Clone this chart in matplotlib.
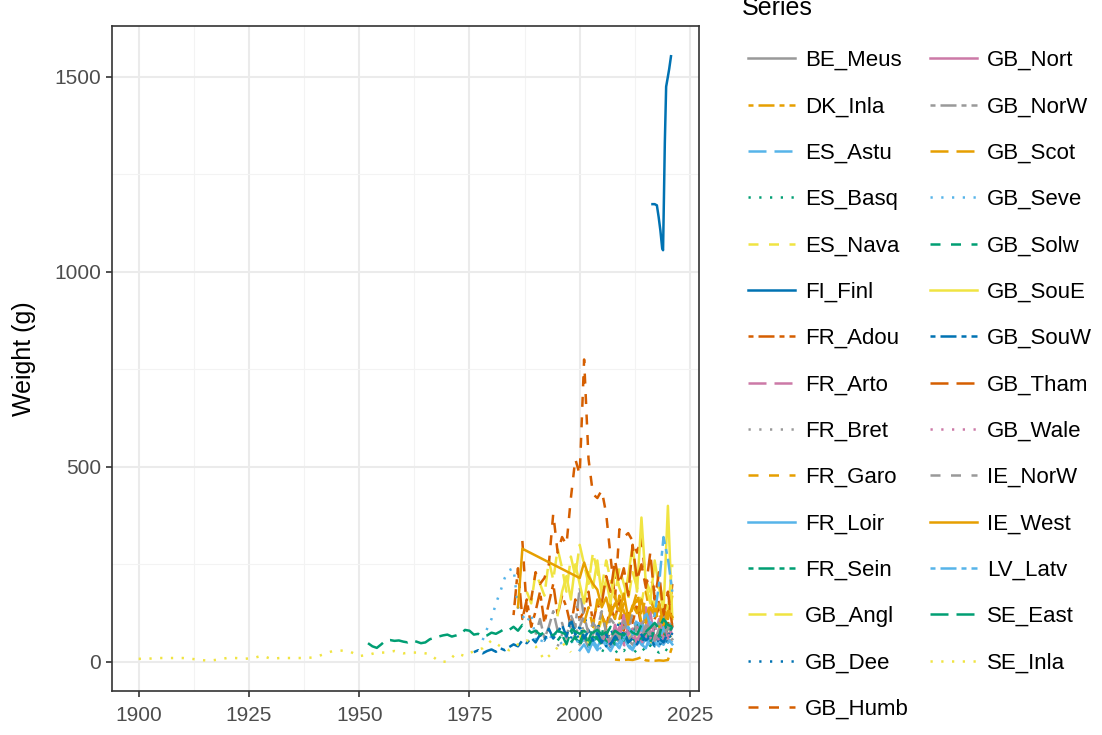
import matplotlib
matplotlib.use("Agg")
import matplotlib.pyplot as plt

plt.rcParams['font.family'] = ['Liberation Sans', 'DejaVu Sans']

# Series data (year, mean weight in g)
be_meus_yr = list(range(2000, 2022))
be_meus_w = [45, 60, 38, 52, 70, 48, 55, 40, 65, 50, 72, 58, 44, 60, 52, 66, 48, 55, 70, 62, 50, 58]

dk_inla_yr = list(range(2008, 2022))
dk_inla_w = [6, 5, 5, 6, 5, 8, 12, 4, 3, 3, 4, 3, 5, 40]

es_astu_yr = list(range(2002, 2022))
es_astu_w = [35, 48, 30, 55, 42, 60, 38, 50, 70, 45, 33, 58, 40, 62, 48, 36, 55, 44, 66, 50]

es_basq_yr = list(range(2005, 2022))
es_basq_w = [30, 25, 40, 22, 35, 28, 45, 20, 32, 38, 26, 42, 30, 24, 36, 28, 40]

es_nava_yr = list(range(2000, 2022))
es_nava_w = [60, 85, 50, 95, 70, 110, 65, 80, 55, 100, 75, 60, 90, 50, 70, 85, 45, 65, 95, 55, 75, 60]

fi_finl_yr = [2016.5, 2017.0, 2017.5, 2017.9, 2018.3, 2018.7, 2018.9, 2019.1, 2019.3, 2019.6, 2020.0, 2020.3, 2020.7]
fi_finl_w = [1173, 1173, 1170, 1140, 1105, 1060, 1055, 1190, 1330, 1474, 1500, 1520, 1552]

fr_adou_yr = list(range(1985, 2022))
fr_adou_w = [120, 240, 110, 160, 90, 130, 180, 100, 150, 200, 120, 170, 140, 90, 160, 110, 130, 180, 100,
             150, 120, 90, 140, 110, 160, 80, 130, 100, 150, 90, 120, 80, 110, 140, 70, 100, 90]

fr_arto_yr = list(range(2008, 2022))
fr_arto_w = [60, 90, 45, 120, 75, 100, 55, 140, 80, 65, 110, 50, 95, 70]

fr_bret_yr = list(range(1995, 2022))
fr_bret_w = [40, 70, 55, 90, 60, 110, 75, 50, 85, 65, 45, 80, 60, 95, 55, 70, 40, 85, 60, 50, 75, 45, 65,
             55, 80, 50, 60]

fr_garo_yr = list(range(2004, 2022))
fr_garo_w = [80, 120, 95, 150, 110, 170, 130, 90, 140, 160, 100, 180, 120, 150, 90, 130, 110, 200]

fr_loir_yr = list(range(2000, 2022))
fr_loir_w = [30, 45, 25, 55, 38, 60, 42, 28, 50, 35, 65, 40, 30, 58, 45, 35, 70, 50, 40, 90, 60, 45]

fr_sein_yr = list(range(1995, 2022))
fr_sein_w = [55, 70, 45, 80, 60, 50, 75, 40, 65, 55, 85, 50, 60, 45, 70, 55, 80, 60, 50, 65, 75, 55, 90,
             70, 60, 85, 100]

gb_angl_yr = list(range(1988, 2022))
gb_angl_w = [180, 150, 230, 200, 170, 260, 210, 290, 240, 180, 270, 220, 300, 250, 200, 280, 230, 190,
             260, 210, 170, 240, 200, 160, 230, 190, 150, 210, 180, 140, 200, 160, 130, 250]

gb_dee_yr = list(range(1998, 2022))
gb_dee_w = [60, 90, 45, 120, 80, 55, 100, 70, 40, 85, 60, 110, 75, 50, 95, 65, 45, 80, 55, 70, 40, 60, 50, 75]

gb_humb_yr = list(range(1987, 2022))
gb_humb_w = [310, 130, 160, 230, 200, 215, 250, 380, 280, 320, 300, 420, 520, 480, 775, 520, 430, 420,
             440, 380, 270, 160, 340, 320, 330, 310, 280, 320, 200, 220, 180, 150, 100, 90, 200]

gb_nort_yr = list(range(2005, 2022))
gb_nort_w = [50, 75, 40, 95, 60, 120, 70, 85, 45, 100, 65, 130, 55, 80, 110, 60, 90]

gb_norw_yr = list(range(1990, 2022))
gb_norw_w = [70, 110, 60, 90, 130, 80, 100, 60, 120, 90, 190, 110, 80, 70, 95, 60, 85, 50, 75, 65, 90,
             55, 70, 80, 60, 95, 70, 55, 85, 130, 75, 60]

gb_scot_yr = list(range(2001, 2022))
gb_scot_w = [100, 140, 90, 160, 120, 80, 130, 170, 110, 150, 95, 140, 180, 120, 100, 160, 130, 90, 140, 110, 170]

gb_seve_yr = list(range(1978, 2022))
gb_seve_w = [56, 85, 110, 150, 180, 215, 235, 240, 140, 120, 100, 124, 60, 45, 70, 50, 80, 60, 45, 70,
             55, 40, 65, 50, 35, 60, 45, 30, 55, 40, 50, 35, 60, 45, 30, 50, 40, 55, 35, 45, 60, 40, 50, 45]

gb_solw_yr = list(range(1998, 2022))
gb_solw_w = [50, 65, 40, 75, 55, 85, 60, 45, 70, 90, 55, 65, 80, 50, 70, 95, 60, 75, 50, 85, 65, 110, 70, 90]

gb_soue_yr = list(range(1995, 2022))
gb_soue_w = [120, 180, 220, 160, 250, 200, 150, 230, 190, 260, 170, 210, 150, 240, 190, 160, 220, 300,
             180, 370, 200, 150, 260, 190, 130, 400, 110]

gb_souw_yr = list(range(1976, 2022))
gb_souw_w = [25, 30, 22, 28, 32, 26, 35, 30, 38, 45, 40, 55, 48, 62, 50, 70, 55, 85, 60, 75, 95, 65, 110,
             70, 90, 60, 80, 55, 75, 50, 70, 45, 65, 55, 80, 50, 60, 45, 70, 55, 65, 40, 60, 50, 75, 55]

gb_tham_yr = list(range(2005, 2022))
gb_tham_w = [150, 220, 180, 260, 200, 240, 170, 300, 210, 250, 190, 280, 160, 230, 120, 180, 90]

gb_wale_yr = list(range(2010, 2022))
gb_wale_w = [40, 70, 55, 90, 45, 80, 60, 100, 50, 75, 65, 85]

ie_norw_yr = list(range(2000, 2022))
ie_norw_w = [90, 120, 70, 100, 85, 130, 75, 110, 95, 60, 105, 80, 125, 70, 95, 115, 65, 90, 100, 75, 85, 110]

ie_west_yr = [1986, 1987] + list(range(2000, 2022))
ie_west_w = [140, 290, 215, 255, 220, 200, 185, 140, 165, 120, 150, 130, 175, 110, 145, 125, 160, 105,
             140, 120, 150, 95, 130, 115]

lv_latv_yr = list(range(2010, 2022))
lv_latv_w = [60, 90, 70, 110, 80, 130, 95, 120, 200, 320, 265, 180]

se_east_yr = list(range(1952, 2022))
se_east_w = [48, 40, 36, 45, 55, 56, 54, 55, 52, 50, 55, 52, 48, 50, 58, 62, 65, 68, 70, 65, 68, 72, 82,
             80, 70, 72, 65, 68, 75, 72, 78, 85, 82, 90, 80, 95, 85, 75, 80, 70, 75, 72, 68, 80, 75, 70,
             85, 78, 72, 80, 68, 75, 82, 70, 76, 65, 80, 72, 68, 85, 75, 70, 95, 78, 88, 100, 85, 110, 95, 90]

se_inla_yr = list(range(1900, 2000, 2))
se_inla_w = [8, 8, 10, 10, 10, 10, 8, 5, 3, 6, 10, 10, 8, 10, 16, 8, 10, 10, 10, 10, 12, 20, 28, 29, 26,
             15, 18, 24, 24, 28, 22, 24, 24, 20, 2, 0, 22, 15, 28, 35, 55, 40, 30, 45, 55, 40, 5, 25, 50, 25]

series_names = ['BE_Meus', 'DK_Inla', 'ES_Astu', 'ES_Basq', 'ES_Nava', 'FI_Finl', 'FR_Adou', 'FR_Arto',
                'FR_Bret', 'FR_Garo', 'FR_Loir', 'FR_Sein', 'GB_Angl', 'GB_Dee', 'GB_Humb', 'GB_Nort',
                'GB_NorW', 'GB_Scot', 'GB_Seve', 'GB_Solw', 'GB_SouE', 'GB_SouW', 'GB_Tham', 'GB_Wale',
                'IE_NorW', 'IE_West', 'LV_Latv', 'SE_East', 'SE_Inla']
series_years = [be_meus_yr, dk_inla_yr, es_astu_yr, es_basq_yr, es_nava_yr, fi_finl_yr, fr_adou_yr,
                fr_arto_yr, fr_bret_yr, fr_garo_yr, fr_loir_yr, fr_sein_yr, gb_angl_yr, gb_dee_yr,
                gb_humb_yr, gb_nort_yr, gb_norw_yr, gb_scot_yr, gb_seve_yr, gb_solw_yr, gb_soue_yr,
                gb_souw_yr, gb_tham_yr, gb_wale_yr, ie_norw_yr, ie_west_yr, lv_latv_yr, se_east_yr,
                se_inla_yr]
series_weights = [be_meus_w, dk_inla_w, es_astu_w, es_basq_w, es_nava_w, fi_finl_w, fr_adou_w,
                  fr_arto_w, fr_bret_w, fr_garo_w, fr_loir_w, fr_sein_w, gb_angl_w, gb_dee_w,
                  gb_humb_w, gb_nort_w, gb_norw_w, gb_scot_w, gb_seve_w, gb_solw_w, gb_soue_w,
                  gb_souw_w, gb_tham_w, gb_wale_w, ie_norw_w, ie_west_w, lv_latv_w, se_east_w,
                  se_inla_w]

# Okabe-Ito palette, cycled; 5 line types cycled
palette = ['#999999', '#E69F00', '#56B4E9', '#009E73', '#F0E442', '#0072B2', '#D55E00', '#CC79A7']
linetypes = ['solid', (0, (2, 2, 6.4, 2)), (0, (7.2, 3.2)), (0, (0.9, 3.4)), (0, (4, 4.2))]

fig = plt.figure(figsize=(11.02, 7.35), dpi=100)
ax = fig.add_axes([112 / 1102, 1 - 691 / 735, (699 - 112) / 1102, (691 - 26) / 735])

handles = []
for i, name in enumerate(series_names):
    ln, = ax.plot(series_years[i], series_weights[i], color=palette[i % 8],
                  linestyle=linetypes[i % 5], linewidth=1.8, label=name)
    handles.append(ln)

# theme_bw look
ax.set_xlim(1893.95, 2027.05)
ax.set_ylim(-74.5, 1629.5)
ax.set_xticks([1900, 1925, 1950, 1975, 2000, 2025])
ax.set_xticks([1912.5, 1937.5, 1962.5, 1987.5, 2012.5], minor=True)
ax.set_yticks([0, 500, 1000, 1500])
ax.set_yticks([250, 750, 1250], minor=True)
ax.grid(which='major', color='#EBEBEB', linewidth=1.5)
ax.grid(which='minor', color='#F3F3F3', linewidth=0.8)
ax.set_axisbelow(True)
for sp in ax.spines.values():
    sp.set_color('#333333')
    sp.set_linewidth(1.2)
ax.tick_params(which='major', length=4, width=1.2, color='#333333', labelcolor='#4D4D4D',
               labelsize=15, pad=4)
ax.tick_params(axis='x', which='major', pad=7)
ax.tick_params(which='minor', length=0)
ax.set_ylabel('Weight (g)', fontsize=18, color='black', labelpad=13)

fig.text(742 / 1102, 1 - 15 / 735, 'Series', fontsize=18, va='baseline', ha='left')
leg = fig.legend(handles=handles, labels=series_names, ncol=2, loc='upper left',
                 bbox_to_anchor=(748 / 1102, 1 - 50 / 735), frameon=False, fontsize=16,
                 handlelength=2.1, handletextpad=0.45, labelspacing=1.14, columnspacing=0.98,
                 borderpad=0, borderaxespad=0)

fig.savefig('out.png', dpi=100)
